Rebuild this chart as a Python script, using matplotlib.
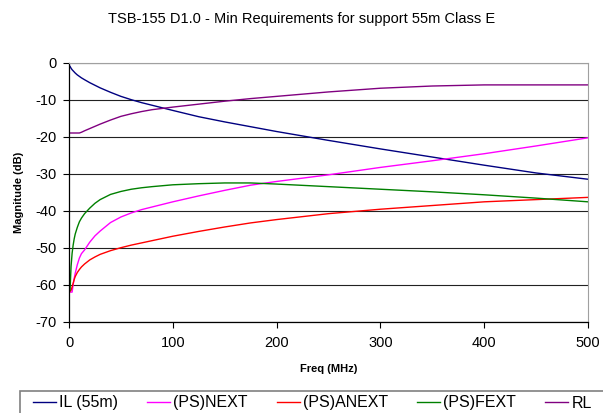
import numpy as np
import matplotlib.pyplot as plt
from matplotlib.patches import Rectangle

plt.rcParams['font.family'] = ['Liberation Sans', 'DejaVu Sans']
plt.rcParams['axes.unicode_minus'] = False

freq = [1, 2, 3, 4, 5, 6, 8, 10, 12, 15, 20, 25, 30, 40, 50, 60, 70, 80,
        100, 125, 150, 175, 200, 250, 300, 350, 400, 450, 500]

il_55m = [-1.0, -1.5, -1.9, -2.2, -2.5, -2.8, -3.3, -3.7, -4.1, -4.6, -5.4,
          -6.1, -6.8, -8.0, -9.1, -10.0, -10.8, -11.5, -12.9, -14.6, -16.0,
          -17.3, -18.6, -21.0, -23.3, -25.5, -27.7, -29.8, -31.5]
ps_next = [-62.0, -62.0, -62.0, -60.0, -58.3, -56.9, -54.6, -52.8, -51.6,
           -50.6, -48.5, -46.8, -45.5, -43.2, -41.7, -40.6, -39.7, -39.0,
           -37.6, -36.0, -34.5, -33.1, -32.1, -30.3, -28.3, -26.5, -24.6,
           -22.5, -20.3]
ps_anext = [-61.8, -61.5, -60.6, -59.6, -58.6, -57.8, -56.7, -55.9, -55.2,
            -54.4, -53.3, -52.5, -51.8, -50.8, -50.0, -49.3, -48.7, -48.1,
            -46.9, -45.6, -44.4, -43.3, -42.4, -40.8, -39.6, -38.6, -37.6,
            -37.0, -36.4]
ps_fext = [-61.5, -55.0, -51.5, -49.3, -47.6, -46.3, -44.5, -43.0, -42.0,
           -40.8, -39.3, -38.0, -37.0, -35.6, -34.8, -34.2, -33.8, -33.5,
           -33.0, -32.7, -32.5, -32.5, -32.8, -33.5, -34.2, -34.9, -35.7,
           -36.6, -37.6]
rl = [-19.0, -19.0, -19.0, -19.0, -19.0, -19.0, -19.0, -19.0, -18.8, -18.4,
      -17.8, -17.2, -16.6, -15.5, -14.5, -13.8, -13.2, -12.7, -12.0, -11.2,
      -10.4, -9.7, -9.1, -7.9, -6.9, -6.3, -6.0, -6.0, -6.0]

series = [("IL (55m)", il_55m, "#000080"),
          ("(PS)NEXT", ps_next, "#FF00FF"),
          ("(PS)ANEXT", ps_anext, "#FF0000"),
          ("(PS)FEXT", ps_fext, "#008000"),
          ("RL", rl, "#800080")]

W, H = 603, 413
fig = plt.figure(figsize=(W / 100, H / 100), dpi=100)
ax = fig.add_axes([69 / W, 1 - 321.7 / H, (588 - 69) / W, (321.7 - 62.7) / H])

for name, vals, col in series:
    ax.plot(freq, vals, color=col, lw=1.0, label=name)

ax.set_xlim(0, 500)
ax.set_ylim(-70, 0)
ax.set_xticks(np.arange(0, 501, 100))
ax.set_yticks(np.arange(-70, 1, 10))
ax.yaxis.grid(True, color='#222222', lw=0.8)
ax.set_axisbelow(True)
ax.tick_params(labelsize=10.5, length=4, width=0.8, color='black')
ax.tick_params(axis='x', pad=6.5)
ax.tick_params(axis='y', pad=5)
for s in ['top', 'right']:
    ax.spines[s].set_color('#A0A0A0')
for s in ['left', 'bottom']:
    ax.spines[s].set_color('black')
    ax.spines[s].set_linewidth(0.9)

fig.text(0.5, 1 - 19 / H, "TSB-155 D1.0 - Min Requirements for support 55m Class E",
         ha='center', va='center', fontsize=10.5)
fig.text(19 / W, 1 - 192 / H, "Magnitude (dB)", rotation=90, ha='center',
         va='center', fontsize=8, fontweight='bold')
fig.text(328.5 / W, 1 - 369 / H, "Freq (MHz)", ha='center', va='center',
         fontsize=8, fontweight='bold')

# Legende unten, Rahmen laeuft ueber den Bildrand hinaus
fig.patches.append(Rectangle((20 / W, -0.05), 1.0, (1 - 390.5 / H) + 0.05,
                             transform=fig.transFigure, fill=False,
                             edgecolor='#808080', lw=1.2))
fig.legend(loc='center left', bbox_to_anchor=(33 / W, 1 - 403 / H), ncol=5,
           frameon=False, fontsize=11.5, handlelength=1.45, handletextpad=0.2,
           columnspacing=1.8, borderpad=0, borderaxespad=0)

fig.savefig("out.png", dpi=100)
